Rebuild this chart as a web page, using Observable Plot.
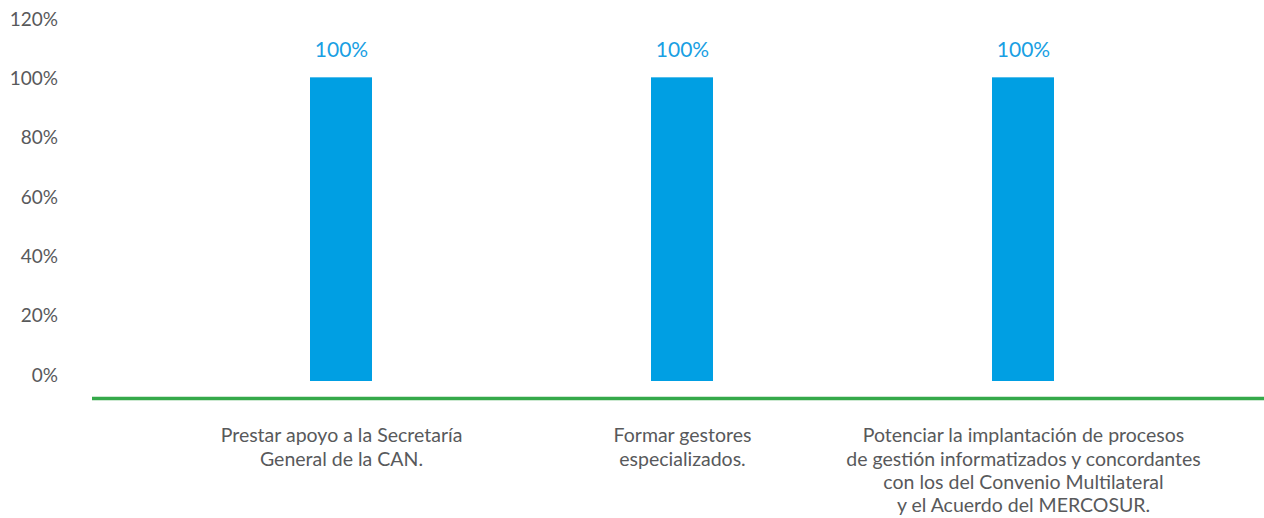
<!DOCTYPE html>
<html>
<head>
<meta charset="utf-8">
<script src="https://cdn.jsdelivr.net/npm/d3@7"></script>
<script src="https://cdn.jsdelivr.net/npm/@observablehq/plot@0.6"></script>
<style>
  html, body { margin: 0; padding: 0; background: #fff; }
  #chart svg { display: block; }
</style>
</head>
<body>
<div id="chart"></div>
<script>
const categories = [
  "Prestar apoyo a la Secretaría\nGeneral de la CAN.",
  "Formar gestores\nespecializados.",
  "Potenciar la implantación de procesos\nde gestión informatizados y concordantes\ncon los del Convenio Multilateral\ny el Acuerdo del MERCOSUR."
];
const values = [100, 100, 100];
const valueLabels = ["100%", "100%", "100%"];
const yTicks = [0, 20, 40, 60, 80, 100, 120];

const data = categories.map((c, i) => ({ cat: c, value: values[i], label: valueLabels[i] }));

const W = 1264, H = 518;
const chart = Plot.plot({
  width: W,
  height: H,
  marginLeft: 170.5,
  marginRight: 69.5,
  marginTop: 19,
  marginBottom: 143,
  style: { fontFamily: "Lato, sans-serif", fontSize: "19px", color: "#58595b", background: "#fff" },
  x: { domain: categories, paddingInner: 0.818, paddingOuter: 0.409, label: null },
  y: { domain: [0, 120], ticks: yTicks, label: null },
  marks: [
    Plot.axisY({ ticks: yTicks, tickSize: 0, tickPadding: 113, tickFormat: d => d + "%", fill: "#58595b", fontSize: 19 }),
    Plot.axisX({ tickSize: 0, tickPadding: 50, lineHeight: 1.2, fill: "#58595b", fontSize: 19.5 }),
    Plot.barY(data, { x: "cat", y: "value", fill: "#009fe3", insetTop: -1, insetBottom: -6 }),
    Plot.text(data, { x: "cat", y: "value", text: "label", dy: -29, fill: "#1a9fe3", fontSize: 21 }),
    Plot.ruleY([0], { stroke: "#35a94a", strokeWidth: 3.5, dy: 23, insetLeft: -78.5, insetRight: -69.5 })
  ]
});
document.getElementById("chart").appendChild(chart);
</script>
</body>
</html>
